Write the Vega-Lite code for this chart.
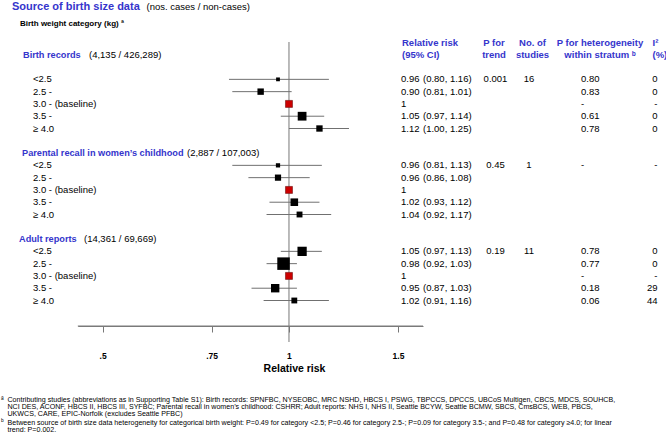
{
  "$schema": "https://vega.github.io/schema/vega-lite/v6.json",
  "width": 666,
  "height": 444,
  "autosize": {"type": "none"},
  "padding": 0,
  "background": "white",
  "config": {
    "view": {"stroke": null},
    "text": {"font": "Liberation Sans", "fontSize": 9.5, "baseline": "middle", "align": "left", "color": "#000000"}
  },
  "datasets": {
    "rows": [
      {"slot": "BR1", "group": "Birth records", "cat": "<2.5", "rr": 0.96, "lo": 0.80, "hi": 1.16, "weight": 7.2, "rrLabel": "0.96", "ci": "(0.80, 1.16)", "ptrend": "0.001", "nstudies": "16", "phet": "0.80", "i2": "0"},
      {"slot": "BR2", "group": "Birth records", "cat": "2.5 -", "rr": 0.90, "lo": 0.81, "hi": 1.01, "weight": 20.5, "rrLabel": "0.90", "ci": "(0.81, 1.01)", "ptrend": null, "nstudies": null, "phet": "0.83", "i2": "0"},
      {"slot": "BR3", "group": "Birth records", "cat": "3.0 - (baseline)", "rr": 1, "lo": null, "hi": null, "weight": null, "rrLabel": "1", "ci": null, "ptrend": null, "nstudies": null, "phet": "-", "i2": "-"},
      {"slot": "BR4", "group": "Birth records", "cat": "3.5 -", "rr": 1.05, "lo": 0.97, "hi": 1.14, "weight": 38.3, "rrLabel": "1.05", "ci": "(0.97, 1.14)", "ptrend": null, "nstudies": null, "phet": "0.61", "i2": "0"},
      {"slot": "BR5", "group": "Birth records", "cat": "≥ 4.0", "rr": 1.12, "lo": 1.00, "hi": 1.25, "weight": 20.1, "rrLabel": "1.12", "ci": "(1.00, 1.25)", "ptrend": null, "nstudies": null, "phet": "0.78", "i2": "0"},
      {"slot": "PR1", "group": "Parental recall in women’s childhood", "cat": "<2.5", "rr": 0.96, "lo": 0.81, "hi": 1.13, "weight": 9.0, "rrLabel": "0.96", "ci": "(0.81, 1.13)", "ptrend": "0.45", "nstudies": "1", "phet": "-", "i2": "-"},
      {"slot": "PR2", "group": "Parental recall in women’s childhood", "cat": "2.5 -", "rr": 0.96, "lo": 0.86, "hi": 1.08, "weight": 19.3, "rrLabel": "0.96", "ci": "(0.86, 1.08)", "ptrend": null, "nstudies": null, "phet": null, "i2": null},
      {"slot": "PR3", "group": "Parental recall in women’s childhood", "cat": "3.0 - (baseline)", "rr": 1, "lo": null, "hi": null, "weight": null, "rrLabel": "1", "ci": null, "ptrend": null, "nstudies": null, "phet": null, "i2": null},
      {"slot": "PR4", "group": "Parental recall in women’s childhood", "cat": "3.5 -", "rr": 1.02, "lo": 0.93, "hi": 1.12, "weight": 28.9, "rrLabel": "1.02", "ci": "(0.93, 1.12)", "ptrend": null, "nstudies": null, "phet": null, "i2": null},
      {"slot": "PR5", "group": "Parental recall in women’s childhood", "cat": "≥ 4.0", "rr": 1.04, "lo": 0.92, "hi": 1.17, "weight": 17.3, "rrLabel": "1.04", "ci": "(0.92, 1.17)", "ptrend": null, "nstudies": null, "phet": null, "i2": null},
      {"slot": "AD1", "group": "Adult reports", "cat": "<2.5", "rr": 1.05, "lo": 0.97, "hi": 1.13, "weight": 42.9, "rrLabel": "1.05", "ci": "(0.97, 1.13)", "ptrend": "0.19", "nstudies": "11", "phet": "0.78", "i2": "0"},
      {"slot": "AD2", "group": "Adult reports", "cat": "2.5 -", "rr": 0.98, "lo": 0.92, "hi": 1.03, "weight": 78.3, "rrLabel": "0.98", "ci": "(0.92, 1.03)", "ptrend": null, "nstudies": null, "phet": "0.77", "i2": "0"},
      {"slot": "AD3", "group": "Adult reports", "cat": "3.0 - (baseline)", "rr": 1, "lo": null, "hi": null, "weight": null, "rrLabel": "1", "ci": null, "ptrend": null, "nstudies": null, "phet": "-", "i2": "-"},
      {"slot": "AD4", "group": "Adult reports", "cat": "3.5 -", "rr": 0.95, "lo": 0.87, "hi": 1.03, "weight": 35.1, "rrLabel": "0.95", "ci": "(0.87, 1.03)", "ptrend": null, "nstudies": null, "phet": "0.18", "i2": "29"},
      {"slot": "AD5", "group": "Adult reports", "cat": "≥ 4.0", "rr": 1.02, "lo": 0.91, "hi": 1.16, "weight": 17.0, "rrLabel": "1.02", "ci": "(0.91, 1.16)", "ptrend": null, "nstudies": null, "phet": "0.06", "i2": "44"}
    ],
    "groups": [
      {"slot": "hdr2", "name": "Birth records", "count": "(4,135 / 426,289)"},
      {"slot": "PRh", "name": "Parental recall in women’s childhood", "count": "(2,887 / 107,003)"},
      {"slot": "ADh", "name": "Adult reports", "count": "(14,361 / 69,669)"}
    ],
    "heads": [
      {"slot": "hdr1", "rr": "Relative risk", "pt": "P for", "ns": "No. of", "ph": "P for heterogeneity", "i2": "I²"},
      {"slot": "hdr2", "rr": "(95% CI)", "pt": "trend", "ns": "studies", "ph": "within stratum ᵇ", "i2": "(%)"}
    ]
  },
  "resolve": {"scale": {"x": "independent", "y": "independent", "size": "independent"}},
  "layer": [
    {
      "data": {"values": [{}]},
      "layer": [
        {
          "mark": {"type": "rule", "color": "#777777", "strokeWidth": 1},
          "encoding": {
            "x": {"datum": 1, "type": "quantitative", "scale": {"type": "log", "domain": [0.456, 1.646], "range": [77.8, 423], "nice": false}, "axis": null},
            "y": {"datum": 42, "type": "quantitative", "scale": {"domain": [0, 444], "range": [0, 444], "nice": false, "zero": false}, "axis": null},
            "y2": {"datum": 342}
          }
        },
        {
          "mark": {"type": "rule", "color": "#7a7a7a", "strokeWidth": 1},
          "encoding": {
            "x": {"datum": 0.456, "type": "quantitative", "axis": null},
            "x2": {"datum": 1.646},
            "y": {"datum": 326, "type": "quantitative", "axis": null}
          }
        }
      ]
    },
    {
      "data": {"name": "rows"},
      "encoding": {
        "y": {"field": "slot", "type": "nominal", "axis": null,
          "scale": {"type": "point", "padding": 0, "range": [42.5, 300.5],
            "domain": ["hdr1", "hdr2", "gap1", "BR1", "BR2", "BR3", "BR4", "BR5", "gap2", "PRh", "PR1", "PR2", "PR3", "PR4", "PR5", "gap3", "ADh", "AD1", "AD2", "AD3", "AD4", "AD5"]}}
      },
      "layer": [
        {
          "transform": [{"filter": "datum.lo != null"}],
          "mark": {"type": "rule", "color": "#707070", "strokeWidth": 1},
          "encoding": {
            "x": {"field": "lo", "type": "quantitative",
              "scale": {"type": "log", "domain": [0.456, 1.646], "range": [77.8, 423], "nice": false},
              "axis": {"values": [0.5, 0.75, 1, 1.5], "format": "~g", "labelExpr": "replace(datum.label, '0.', '.')",
                "title": "Relative risk", "offset": -118, "grid": false,
                "domain": true, "ticks": true, "domainWidth": 1, "tickWidth": 1,
                "domainColor": "#7a7a7a", "tickColor": "#777777", "tickSize": 6,
                "labelFont": "Liberation Sans", "labelFontSize": 8.5, "labelFontWeight": "bold", "labelColor": "#000000",
                "labelPadding": 19, "labelFlush": false, "labelOverlap": false,
                "titleFont": "Liberation Sans", "titleFontSize": 10.5, "titleFontWeight": "bold", "titleColor": "#000000",
                "titleX": 294, "titleY": 42, "titleBaseline": "middle", "titleAlign": "center"}},
            "x2": {"field": "hi"}
          }
        },
        {
          "transform": [{"filter": "datum.weight != null"}],
          "mark": {"type": "point", "shape": "square", "filled": true, "color": "#000000", "opacity": 1},
          "encoding": {
            "x": {"field": "rr", "type": "quantitative"},
            "size": {"field": "weight", "type": "quantitative", "scale": {"domain": [0, 100], "range": [0, 200]}, "legend": null}
          }
        },
        {
          "transform": [{"filter": "datum.weight == null"}],
          "mark": {"type": "point", "shape": "square", "filled": true, "fill": "#cc0000", "stroke": "#6e1010", "strokeWidth": 0.6, "size": 49, "opacity": 1},
          "encoding": {
            "x": {"field": "rr", "type": "quantitative"}
          }
        }
      ]
    },
    {
      "encoding": {
        "y": {"field": "slot", "type": "nominal", "axis": null,
          "scale": {"type": "point", "padding": 0, "range": [42.5, 300.5],
            "domain": ["hdr1", "hdr2", "gap1", "BR1", "BR2", "BR3", "BR4", "BR5", "gap2", "PRh", "PR1", "PR2", "PR3", "PR4", "PR5", "gap3", "ADh", "AD1", "AD2", "AD3", "AD4", "AD5"]}}
      },
      "layer": [
        {"data": {"name": "rows"}, "mark": {"type": "text"},
          "encoding": {"x": {"datum": 33, "type": "quantitative", "scale": {"domain": [0, 666], "range": [0, 666], "nice": false, "zero": false}, "axis": null}, "text": {"field": "cat"}}},
        {"data": {"name": "rows"}, "mark": {"type": "text"},
          "encoding": {"x": {"datum": 401, "type": "quantitative", "axis": null}, "text": {"field": "rrLabel"}}},
        {"data": {"name": "rows"}, "transform": [{"filter": "datum.ci != null"}], "mark": {"type": "text"},
          "encoding": {"x": {"datum": 423, "type": "quantitative", "axis": null}, "text": {"field": "ci"}}},
        {"data": {"name": "rows"}, "transform": [{"filter": "datum.ptrend != null"}], "mark": {"type": "text", "align": "center"},
          "encoding": {"x": {"datum": 495.5, "type": "quantitative", "axis": null}, "text": {"field": "ptrend"}}},
        {"data": {"name": "rows"}, "transform": [{"filter": "datum.nstudies != null"}], "mark": {"type": "text", "align": "center"},
          "encoding": {"x": {"datum": 529, "type": "quantitative", "axis": null}, "text": {"field": "nstudies"}}},
        {"data": {"name": "rows"}, "transform": [{"filter": "datum.phet != null"}], "mark": {"type": "text"},
          "encoding": {"x": {"datum": 581, "type": "quantitative", "axis": null}, "text": {"field": "phet"}}},
        {"data": {"name": "rows"}, "transform": [{"filter": "datum.i2 != null"}], "mark": {"type": "text", "align": "right"},
          "encoding": {"x": {"datum": 657.5, "type": "quantitative", "axis": null}, "text": {"field": "i2"}}},

        {"data": {"name": "heads"}, "mark": {"type": "text", "fontWeight": "bold", "color": "#3535cc"},
          "encoding": {"x": {"datum": 402, "type": "quantitative", "axis": null}, "text": {"field": "rr"}}},
        {"data": {"name": "heads"}, "mark": {"type": "text", "fontWeight": "bold", "color": "#3535cc", "align": "center"},
          "encoding": {"x": {"datum": 494, "type": "quantitative", "axis": null}, "text": {"field": "pt"}}},
        {"data": {"name": "heads"}, "mark": {"type": "text", "fontWeight": "bold", "color": "#3535cc", "align": "center"},
          "encoding": {"x": {"datum": 532.5, "type": "quantitative", "axis": null}, "text": {"field": "ns"}}},
        {"data": {"name": "heads"}, "mark": {"type": "text", "fontWeight": "bold", "color": "#3535cc", "align": "center"},
          "encoding": {"x": {"datum": 600, "type": "quantitative", "axis": null}, "text": {"field": "ph"}}},
        {"data": {"name": "heads"}, "mark": {"type": "text", "fontWeight": "bold", "color": "#3535cc"},
          "encoding": {"x": {"datum": 652.5, "type": "quantitative", "axis": null}, "text": {"field": "i2"}}},

        {"data": {"name": "groups"}, "transform": [{"filter": "datum.name == 'Birth records'"}], "mark": {"type": "text", "fontWeight": "bold", "fontSize": 9.2, "color": "#3535cc"},
          "encoding": {"x": {"datum": 23, "type": "quantitative", "axis": null}, "text": {"field": "name"}}},
        {"data": {"name": "groups"}, "transform": [{"filter": "datum.name == 'Birth records'"}], "mark": {"type": "text"},
          "encoding": {"x": {"datum": 89, "type": "quantitative", "axis": null}, "text": {"field": "count"}}},
        {"data": {"name": "groups"}, "transform": [{"filter": "datum.name == 'Parental recall in women’s childhood'"}], "mark": {"type": "text", "fontWeight": "bold", "fontSize": 9.2, "color": "#3535cc"},
          "encoding": {"x": {"datum": 22, "type": "quantitative", "axis": null}, "text": {"field": "name"}}},
        {"data": {"name": "groups"}, "transform": [{"filter": "datum.name == 'Parental recall in women’s childhood'"}], "mark": {"type": "text"},
          "encoding": {"x": {"datum": 187, "type": "quantitative", "axis": null}, "text": {"field": "count"}}},
        {"data": {"name": "groups"}, "transform": [{"filter": "datum.name == 'Adult reports'"}], "mark": {"type": "text", "fontWeight": "bold", "fontSize": 9.2, "color": "#3535cc"},
          "encoding": {"x": {"datum": 19, "type": "quantitative", "axis": null}, "text": {"field": "name"}}},
        {"data": {"name": "groups"}, "transform": [{"filter": "datum.name == 'Adult reports'"}], "mark": {"type": "text"},
          "encoding": {"x": {"datum": 84, "type": "quantitative", "axis": null}, "text": {"field": "count"}}}
      ]
    },
    {
      "data": {"values": [{}]},
      "layer": [
        {"mark": {"type": "text", "text": "Source of birth size data", "fontSize": 11, "fontWeight": "bold", "color": "#3535cc", "baseline": "alphabetic"},
          "encoding": {"x": {"datum": 12, "type": "quantitative", "scale": {"domain": [0, 666], "range": [0, 666], "nice": false, "zero": false}, "axis": null},
                       "y": {"datum": 9.5, "type": "quantitative", "scale": {"domain": [0, 444], "range": [0, 444], "nice": false, "zero": false}, "axis": null}}},
        {"mark": {"type": "text", "text": "(nos. cases / non-cases)", "fontSize": 9.5, "baseline": "alphabetic"},
          "encoding": {"x": {"datum": 146.5, "type": "quantitative", "axis": null}, "y": {"datum": 9.5, "type": "quantitative", "axis": null}}},
        {"mark": {"type": "text", "text": "Birth weight category (kg) ª", "fontSize": 8, "fontWeight": "bold", "baseline": "alphabetic"},
          "encoding": {"x": {"datum": 20, "type": "quantitative", "axis": null}, "y": {"datum": 25.5, "type": "quantitative", "axis": null}}},
        {"mark": {"type": "text", "text": "ª", "fontSize": 7.1, "baseline": "top"},
          "encoding": {"x": {"datum": 1, "type": "quantitative", "axis": null}, "y": {"datum": 396.2, "type": "quantitative", "axis": null}}},
        {"mark": {"type": "text", "fontSize": 7.1, "baseline": "top", "lineHeight": 7.1,
            "text": ["Contributing studies (abbreviations as in Supporting Table S1): Birth records: SPNFBC, NYSEOBC, MRC NSHD, HBCS I, PSWG, TBPCCS, DPCCS, UBCoS Multigen, CBCS, MDCS, SOUHCB,",
                     "NCI DES, ACONF, HBCS II, HBCS III, SYFBC; Parental recall in women’s childhood: CSHRR; Adult reports: NHS I, NHS II, Seattle BCYW, Seattle BCMW, SBCS, CmsBCS, WEB, PBCS,",
                     "UKWCS, CARE, EPIC-Norfolk (excludes Seattle PFBC)"]},
          "encoding": {"x": {"datum": 7.5, "type": "quantitative", "axis": null}, "y": {"datum": 396.2, "type": "quantitative", "axis": null}}},
        {"mark": {"type": "text", "text": "ᵇ", "fontSize": 7.1, "baseline": "top"},
          "encoding": {"x": {"datum": 1, "type": "quantitative", "axis": null}, "y": {"datum": 418.2, "type": "quantitative", "axis": null}}},
        {"mark": {"type": "text", "fontSize": 7.1, "baseline": "top", "lineHeight": 7.1,
            "text": ["Between source of birth size data heterogeneity for categorical birth weight: P=0.49 for category <2.5; P=0.46 for category 2.5-; P=0.09 for category 3.5-; and P=0.48 for category ≥4.0; for linear",
                     "trend: P=0.002."]},
          "encoding": {"x": {"datum": 7.5, "type": "quantitative", "axis": null}, "y": {"datum": 418.6, "type": "quantitative", "axis": null}}}
      ]
    }
  ]
}
